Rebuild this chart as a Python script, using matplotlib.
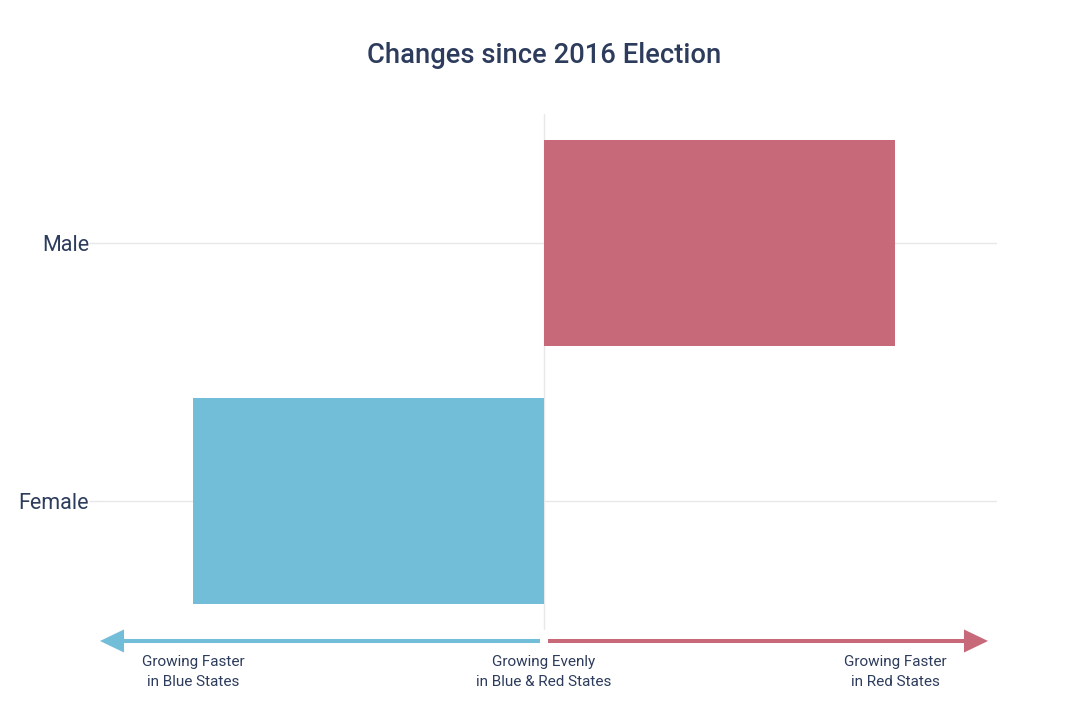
import matplotlib
matplotlib.use("Agg")
import matplotlib.pyplot as plt
from matplotlib.transforms import blended_transform_factory
from matplotlib.patches import ArrowStyle

plt.rcParams['font.family'] = ['Roboto', 'DejaVu Sans']

categories = ["Female", "Male"]
values = [-1.0, 1.0]
bar_colors = ["#72BDD8", "#C8697A"]
scale_ticks = [-1, 0, 1]
scale_labels = ["Growing Faster\nin Blue States",
                "Growing Evenly\nin Blue & Red States",
                "Growing Faster\nin Red States"]
title = "Changes since 2016 Election"

text_color = "#2D3C5C"
grid_color = "#E8E8EA"

W, H = 1091, 728
fig = plt.figure(figsize=(W / 100, H / 100), dpi=100)
ax = fig.add_axes([100 / W, 1 - 630 / H, 897 / W, 516 / H])

ax.barh(range(len(categories)), values, height=0.8, color=bar_colors, zorder=3)

ax.set_xlim(-444 / 351, 453 / 351)
ax.set_ylim(-0.5, 1.5)

ax.set_yticks(range(len(categories)))
ax.set_yticklabels(categories, fontsize=15.5, color=text_color)
ax.yaxis.grid(True, color=grid_color, linewidth=1, zorder=0)
ax.tick_params(axis='y', length=8, width=1, color=grid_color, pad=0)

ax.set_xticks(scale_ticks)
ax.set_xticklabels(scale_labels, fontsize=11, color=text_color, linespacing=1.5)
ax.tick_params(axis='x', length=0, pad=18)

ax.axvline(0, color=grid_color, linewidth=1, zorder=1)

for s in ax.spines.values():
    s.set_visible(False)

trans = blended_transform_factory(ax.transData, ax.transAxes)
yarrow = -11 / 516
style = ArrowStyle('-|>', head_length=1.25, head_width=0.6)
ax.annotate('', xy=(-444 / 351, yarrow), xytext=(-4 / 351, yarrow),
            xycoords=trans, textcoords=trans,
            arrowprops=dict(arrowstyle=style, color=bar_colors[0], lw=2.9,
                            shrinkA=0, shrinkB=0, mutation_scale=10,
                            capstyle='butt', joinstyle='miter'),
            annotation_clip=False)
ax.annotate('', xy=(444 / 351, yarrow), xytext=(4 / 351, yarrow),
            xycoords=trans, textcoords=trans,
            arrowprops=dict(arrowstyle=style, color=bar_colors[1], lw=2.9,
                            shrinkA=0, shrinkB=0, mutation_scale=10,
                            capstyle='butt', joinstyle='miter'),
            annotation_clip=False)

fig.text(544 / W, 1 - 55.5 / H, title, ha='center', va='center',
         fontsize=19.7, fontweight='medium', color=text_color)

fig.savefig("out.png", dpi=100, facecolor="white")
